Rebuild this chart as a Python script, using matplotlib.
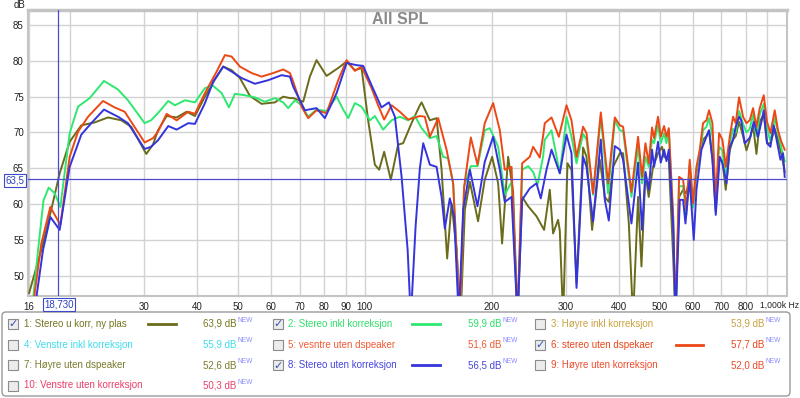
import matplotlib.pyplot as plt
from matplotlib.patches import FancyBboxPatch, Rectangle

plt.rcParams['font.family'] = ['Liberation Sans', 'DejaVu Sans']

# --- measured curves (frequency in Hz, level in dB) ---
green_hz = [16.3, 16.8, 17.3, 17.8, 18.4, 18.97, 19.46, 19.96, 20.89, 22.27, 24.07, 25.98, 27.44,
            30.06, 31.11, 32.32, 34.19, 35.46, 37.45, 39.55, 41.77, 43.7, 45.75, 47.61, 49.19,
            51.95, 54.87, 57.94, 61.2, 64.03, 65.8, 68.25, 70.79, 73.38, 76.81, 81.13, 85.7,
            88.84, 91.29, 94.69, 98.21, 102.8, 105.6, 110.5, 115.7, 121.0, 126.6, 131.4, 136.3,
            142.6, 147.9, 153.3, 157.5, 161.9, 168.0, 171.9, 178.3, 185.0, 192.4, 197.8, 207.0,
            214.6, 222.7, 230.1, 236.0, 243.8, 250.5, 256.6, 264.5, 267.0, 277.0, 289.8, 300.6,
            308.9, 317.5, 329.1, 335.3, 347.5, 362.5, 377.2, 391.3, 402.2, 409.4, 428.5, 444.3,
            454.1, 462.5, 470.9, 479.5, 484.8, 495.5, 502.8, 512.0, 518.8, 525.4, 538.0, 545.0,
            555.8, 568.1, 578.5, 589.0, 599.8, 611.0, 622.1, 633.4, 645.2, 654.5, 666.7, 678.9,
            691.3, 704.1, 717.0, 732.8, 746.1, 757.1, 771.0, 788.0, 802.7, 817.3, 832.3, 847.8,
            863.0, 882.2, 898.2, 915.0, 936.7, 953.7, 971.4, 989.2]
green_db = [46.0, 53.6, 60.5, 62.3, 61.5, 59.6, 64.8, 69.9, 73.6, 74.8, 77.2, 76.0, 74.5,
            71.3, 71.7, 72.7, 74.4, 73.8, 74.5, 74.2, 76.2, 76.5, 75.5, 73.5, 75.4,
            75.2, 74.9, 74.3, 74.8, 74.2, 73.4, 74.5, 73.8, 72.2, 73.2, 73.0, 75.0,
            73.2, 72.0, 74.1, 73.6, 71.7, 72.3, 70.4, 71.7, 72.2, 71.7, 72.3, 70.6,
            69.2, 69.5, 66.6, 66.4, 62.9, 44.0, 62.4, 65.3, 65.3, 70.3, 70.6, 68.0,
            61.3, 63.1, 44.0, 64.8, 65.3, 64.5, 62.7, 66.6, 69.0, 70.3, 64.3, 72.2,
            69.4, 65.7, 69.8, 69.0, 61.3, 72.2, 61.5, 71.7, 70.3, 70.2, 61.0, 68.0,
            62.9, 66.6, 65.2, 69.0, 68.5, 71.0, 68.5, 69.9, 68.5, 70.3, 58.3, 44.0,
            62.5, 62.5, 58.5, 65.5, 59.5, 64.8, 67.0, 70.3, 70.8, 72.0, 69.5, 59.5,
            68.0, 67.5, 63.5, 68.5, 70.5, 70.0, 73.0, 71.2, 70.0, 70.5, 72.5, 69.5,
            72.5, 74.0, 70.5, 68.8, 72.0, 70.0, 67.8, 66.0]

red_hz = [16.4, 17.1, 17.96, 18.97, 19.96, 20.89, 22.07, 23.94, 25.51, 26.95, 30.06, 31.45, 32.32,
          33.89, 35.79, 38.13, 39.55, 41.77, 44.52, 46.58, 48.32, 50.55, 53.89, 56.91, 60.64,
          64.03, 66.42, 67.62, 70.79, 73.38, 76.81, 81.13, 86.45, 90.52, 94.69, 98.21, 103.7,
          107.5, 111.1, 115.7, 121.0, 126.6, 135.0, 138.7, 142.6, 149.2, 156.2, 161.9, 168.0,
          171.9, 178.3, 184.9, 192.4, 201.4, 208.9, 214.6, 222.7, 230.1, 236.0, 246.0, 250.5,
          259.8, 264.5, 267.0, 277.0, 288.3, 300.6, 308.9, 317.5, 329.1, 335.3, 347.5, 362.5,
          377.2, 391.3, 402.2, 409.4, 428.5, 444.3, 454.1, 462.5, 470.9, 479.5, 484.8, 495.5,
          502.8, 512.0, 518.8, 525.4, 538.0, 545.0, 555.8, 568.1, 578.5, 589.0, 599.8, 611.0,
          622.1, 633.4, 645.2, 654.5, 666.7, 678.9, 691.3, 704.1, 717.0, 732.8, 746.1, 757.1,
          771.0, 788.0, 802.7, 817.3, 832.3, 847.8, 863.0, 882.2, 898.2, 915.0, 936.7, 953.7,
          971.4, 989.2]
red_db = [46.5, 54.5, 59.6, 57.1, 66.6, 70.1, 72.2, 74.4, 73.5, 72.9, 68.6, 69.2, 70.1,
          72.6, 71.7, 72.9, 72.6, 75.5, 78.5, 80.8, 80.6, 79.2, 78.3, 77.8, 78.3,
          78.8, 78.3, 77.1, 73.6, 72.0, 73.1, 72.7, 77.3, 80.1, 78.6, 79.2, 76.2,
          73.8, 71.8, 73.8, 72.9, 71.8, 72.3, 72.2, 69.4, 72.0, 67.6, 62.9, 44.0,
          62.4, 69.3, 65.5, 71.3, 74.1, 70.3, 64.8, 65.2, 44.0, 65.7, 66.6, 68.0,
          66.5, 69.5, 71.3, 72.1, 69.4, 73.8, 71.7, 66.6, 70.8, 69.9, 61.5, 72.8,
          62.9, 72.1, 71.0, 70.8, 61.7, 69.4, 63.8, 68.5, 65.7, 70.7, 69.2, 72.2,
          69.4, 70.9, 69.4, 70.6, 58.3, 44.0, 63.8, 63.4, 59.2, 66.2, 60.1, 65.2,
          67.6, 71.3, 71.7, 73.1, 71.3, 60.1, 69.9, 69.0, 65.2, 69.4, 72.2, 71.3,
          74.9, 72.2, 71.3, 71.7, 73.4, 70.8, 73.4, 75.2, 71.5, 69.9, 73.1, 70.3,
          68.7, 67.6]

blue_hz = [16.6, 17.26, 17.96, 18.9, 19.96, 21.27, 22.46, 24.07, 25.98, 27.44, 30.06, 31.11, 32.32,
           34.19, 35.79, 38.13, 39.55, 41.77, 43.7, 46.15, 48.32, 51.02, 54.87, 59.0, 63.47,
           66.42, 67.62, 72.07, 76.81, 80.38, 85.7, 90.52, 95.56, 99.08, 103.7, 109.5, 114.0,
           117.8, 122.2, 126.3, 128.5, 131.9, 135.0, 137.5, 142.6, 147.9, 152.0, 154.7, 159.0,
           162.8, 167.0, 171.0, 177.4, 184.9, 192.4, 201.4, 208.9, 214.6, 222.7, 230.1, 236.0,
           246.0, 255.2, 261.2, 269.5, 277.0, 289.8, 300.6, 308.9, 317.5, 329.1, 335.3, 347.5,
           362.5, 370.5, 378.7, 391.3, 402.2, 409.4, 428.5, 444.3, 454.1, 462.5, 470.9, 479.5,
           484.8, 495.5, 502.8, 512.0, 518.8, 525.4, 538.0, 545.0, 557.9, 568.1, 575.4, 583.0,
           589.0, 602.1, 611.0, 627.9, 645.2, 654.5, 666.7, 678.9, 693.8, 704.1, 719.7, 732.8,
           746.1, 757.1, 771.0, 780.0, 795.3, 810.0, 820.0, 835.4, 855.0, 873.0, 882.2, 898.2,
           915.0, 931.6, 950.0, 966.3, 980.0, 989.2]
blue_db = [46.5, 53.6, 58.2, 56.4, 65.2, 69.7, 71.3, 73.2, 72.2, 71.3, 67.7, 68.0, 68.9,
           70.9, 70.4, 71.3, 71.2, 74.1, 77.1, 79.2, 78.5, 77.6, 76.8, 77.3, 78.0,
           77.8, 76.4, 73.1, 73.4, 72.0, 75.5, 79.7, 79.4, 79.3, 76.6, 73.5, 74.2,
           72.2, 63.8, 53.6, 44.0, 56.9, 65.0, 68.5, 65.5, 65.2, 61.0, 56.6, 60.8,
           58.3, 44.0, 59.2, 64.8, 59.7, 65.9, 69.4, 64.8, 60.3, 61.0, 44.0, 60.6,
           62.2, 62.9, 60.8, 64.8, 67.6, 64.3, 69.7, 67.1, 48.3, 66.6, 65.2, 57.6,
           69.0, 60.6, 57.7, 68.1, 67.6, 66.2, 57.3, 65.8, 56.4, 64.5, 62.0, 67.6,
           65.2, 68.7, 65.8, 67.6, 66.0, 67.6, 57.0, 44.0, 60.6, 60.6, 57.3, 61.0,
           63.4, 55.0, 62.0, 67.6, 69.4, 70.3, 66.2, 58.5, 66.6, 65.7, 62.9, 68.0,
           69.0, 70.8, 72.2, 71.7, 68.5, 69.0, 69.4, 71.5, 69.4, 71.7, 73.1, 68.5,
           68.0, 71.0, 68.5, 66.2, 67.1, 63.8]

olive_hz = [16.0, 17.1, 18.05, 18.9, 19.96, 21.27, 22.88, 24.6, 26.45, 27.93, 30.32, 31.45, 32.32,
            33.89, 35.79, 37.8, 39.55, 41.77, 44.0, 46.15, 48.32, 50.55, 53.4, 56.91, 61.2,
            64.03, 66.42, 67.62, 71.42, 74.06, 76.81, 81.13, 86.45, 90.52, 94.69, 98.21, 101.8,
            105.6, 108.1, 111.1, 115.2, 119.9, 123.2, 129.0, 135.0, 136.3, 142.6, 147.9, 152.0,
            156.7, 160.5, 165.0, 168.6, 172.6, 177.4, 185.5, 192.4, 200.3, 207.0, 211.5, 218.6,
            224.6, 230.1, 236.0, 243.8, 255.2, 266.0, 274.4, 279.4, 287.1, 289.8, 295.1, 302.2,
            308.9, 317.5, 329.1, 335.3, 345.7, 360.5, 370.5, 378.7, 387.7, 402.2, 409.4, 422.4,
            432.3, 444.3, 452.6, 462.5, 470.9, 482.1, 495.5, 506.4, 512.0, 525.4, 538.0, 545.0,
            555.8, 568.1, 578.5, 589.0, 599.8, 611.0, 622.1, 633.4, 645.2, 654.5, 666.7, 678.9,
            691.3, 704.1, 717.0, 732.8, 746.1, 757.1, 771.0, 788.0, 802.7, 817.3, 832.3, 847.8,
            863.0, 882.2, 898.2, 915.0, 936.7, 953.7, 971.4, 989.2]
olive_db = [47.6, 53.6, 59.2, 64.3, 68.7, 71.0, 71.4, 72.1, 71.7, 70.8, 67.0, 68.3, 70.3,
            72.3, 72.1, 72.9, 72.3, 75.0, 77.3, 79.2, 78.7, 77.6, 75.1, 74.0, 74.2,
            75.0, 74.8, 74.8, 74.3, 77.8, 80.1, 77.9, 79.0, 79.9, 78.7, 79.0, 71.7,
            65.5, 64.8, 67.3, 63.4, 68.3, 68.5, 71.3, 73.8, 74.2, 71.7, 72.0, 64.8,
            52.4, 60.1, 53.6, 44.0, 59.2, 63.1, 57.6, 63.4, 66.6, 62.9, 54.5, 66.6,
            61.7, 44.0, 61.0, 59.7, 58.3, 56.4, 62.0, 55.9, 57.8, 56.3, 44.0, 65.7,
            64.8, 49.0, 67.9, 66.6, 56.4, 66.2, 61.0, 60.3, 65.2, 67.1, 67.1, 57.3,
            44.0, 61.0, 51.3, 64.3, 61.0, 65.2, 67.1, 68.0, 66.6, 66.2, 52.7, 44.0,
            61.0, 62.0, 61.5, 64.0, 60.0, 64.5, 66.8, 69.0, 69.5, 70.3, 66.5, 59.0,
            66.5, 66.0, 62.0, 67.5, 69.0, 69.5, 71.5, 69.5, 67.5, 69.0, 71.0, 67.0,
            71.5, 72.5, 68.5, 68.5, 70.5, 69.0, 67.0, 64.5]

# --- axis ticks ---
x_ticks = [16, 20, 30, 40, 50, 60, 70, 80, 90, 100, 200, 300, 400, 500, 600, 700, 800, 900]
x_tick_labels = ['16', '', '30', '40', '50', '60', '70', '80', '90', '100',
                 '200', '300', '400', '500', '600', '700', '800', '']
y_ticks = [50, 55, 60, 65, 70, 75, 80, 85]

cursor_hz = 18.73
cursor_db = 63.5

# --- legend entries: label, level text, colour, checked ---
legend_labels = ['1: Stereo u korr, ny plas', '2: Stereo inkl korreksjon', '3: Høyre inkl korreksjon',
                 '4: Venstre inkl korreksjon', '5: vesntre uten dspeaker', '6: stereo uten dspekaer',
                 '7: Høyre uten dspeaker', '8: Stereo uten korreksjon', '9: Høyre uten korreksjon',
                 '10: Venstre uten korreksjon']
legend_levels = ['63,9 dB', '59,9 dB', '53,9 dB', '55,9 dB', '51,6 dB', '57,7 dB',
                 '52,6 dB', '56,5 dB', '52,0 dB', '50,3 dB']
legend_colors = ['#75751f', '#2ee06a', '#c9a23f', '#3fdcec', '#ef5a35', '#e8461a',
                 '#7a7a2e', '#4545dc', '#ee4a2a', '#ec3f6a']
legend_checked = [True, True, False, False, False, True, False, True, False, False]

OLIVE = '#6b6b1c'
GREEN = '#2ee870'
RED = '#ec4816'
BLUE = '#3434dc'
line_for_entry = {0: OLIVE, 1: GREEN, 5: RED, 7: BLUE}

W, H = 800, 398
fig = plt.figure(figsize=(W / 100, H / 100), dpi=100)
fig.patch.set_facecolor('white')


def fx(px):
    return px / W


def fy(py):
    return 1 - py / H


ax = fig.add_axes([fx(28), fy(296), fx(786.7) - fx(28), fy(10) - fy(296)])
ax.set_xscale('log')
ax.set_xlim(15.9, 1000)
ax.set_ylim(47.17, 87.1)

ax.plot(olive_hz, olive_db, color=OLIVE, lw=1.4, zorder=3)
ax.plot(green_hz, green_db, color=GREEN, lw=1.4, zorder=4)
ax.plot(red_hz, red_db, color=RED, lw=1.4, zorder=5)
ax.plot(blue_hz, blue_db, color=BLUE, lw=1.4, zorder=6)

ax.axvline(cursor_hz, color='#4a4ad2', lw=0.9, zorder=7)
ax.axhline(cursor_db, color='#4a4ad2', lw=0.9, zorder=7)

ax.set_xticks(x_ticks)
ax.set_xticklabels(x_tick_labels)
ax.xaxis.set_minor_locator(plt.NullLocator())
ax.set_yticks(y_ticks)
ax.tick_params(length=0, labelsize=7, colors='#222222')
ax.tick_params(axis='x', pad=4)
ax.tick_params(axis='y', pad=3)
ax.grid(True, color='#d2d2d2', lw=1.0, zorder=0)
for side, sp in ax.spines.items():
    sp.set_color('#c4c4c4')
    sp.set_linewidth(1.5)
ax.spines['top'].set_linewidth(2.5)

ax.text(0.5, fy(19), 'All SPL', transform=fig.transFigure, ha='center', va='center',
        fontsize=11.5, fontweight='bold', color='#8a8a8a')

# overlay in pixel coordinates for labels and legend panel
ov = fig.add_axes([0, 0, 1, 1], zorder=10)
ov.set_xlim(0, W)
ov.set_ylim(H, 0)
ov.axis('off')
ov.patch.set_alpha(0)

ov.text(20, 4.5, 'dB', ha='center', va='center', fontsize=7, color='#222222')
ov.text(799, 305, '1,000k Hz', ha='right', va='center', fontsize=6.2, color='#222222')

ov.text(59, 304.5, '18,730', ha='center', va='center', fontsize=7, color='#2a3fc0',
        bbox=dict(boxstyle='square,pad=0.15', fc='white', ec='#3a4ac8', lw=0.8))
ov.text(15, 180.5, '63,5', ha='center', va='center', fontsize=7, color='#2a3fc0',
        bbox=dict(boxstyle='square,pad=0.15', fc='white', ec='#3a4ac8', lw=0.8))

panel = FancyBboxPatch((2, 312), 788, 84, boxstyle='round,pad=0,rounding_size=4',
                       fc='white', ec='#9a9a9a', lw=1.0)
ov.add_patch(panel)

col_box = [13, 278, 540]
col_text = [24, 288, 551]
col_line = [(148, 176), (412, 440), (676, 703)]
col_val = [203, 468, 731]
row_y = [324, 344.5, 365, 385.5]

fig.canvas.draw()
renderer = fig.canvas.get_renderer()

for i, lab in enumerate(legend_labels):
    r, c = divmod(i, 3)
    y = row_y[r]
    col = legend_colors[i]
    ov.add_patch(Rectangle((col_box[c] - 5, y - 5), 10, 10, fc='#ececec', ec='#8c8c8c', lw=0.8))
    if legend_checked[i]:
        ov.text(col_box[c] + 0.5, y + 0.5, '✓', ha='center', va='center', fontsize=8,
                color='#3552b8', family='DejaVu Sans', fontweight='bold')
        x0, x1 = col_line[c]
        ov.plot([x0, x1], [y, y], color=line_for_entry[i], lw=2)
    ov.text(col_text[c], y, lab, ha='left', va='center', fontsize=7, color=col)
    t = ov.text(col_val[c], y, legend_levels[i], ha='left', va='center', fontsize=7, color=col)
    bb = t.get_window_extent(renderer)
    ov.text(bb.x1 + 1, y - 3.5, 'NEW', ha='left', va='center', fontsize=4.8, color='#8a8aff')

fig.savefig('out.png', dpi=100)
